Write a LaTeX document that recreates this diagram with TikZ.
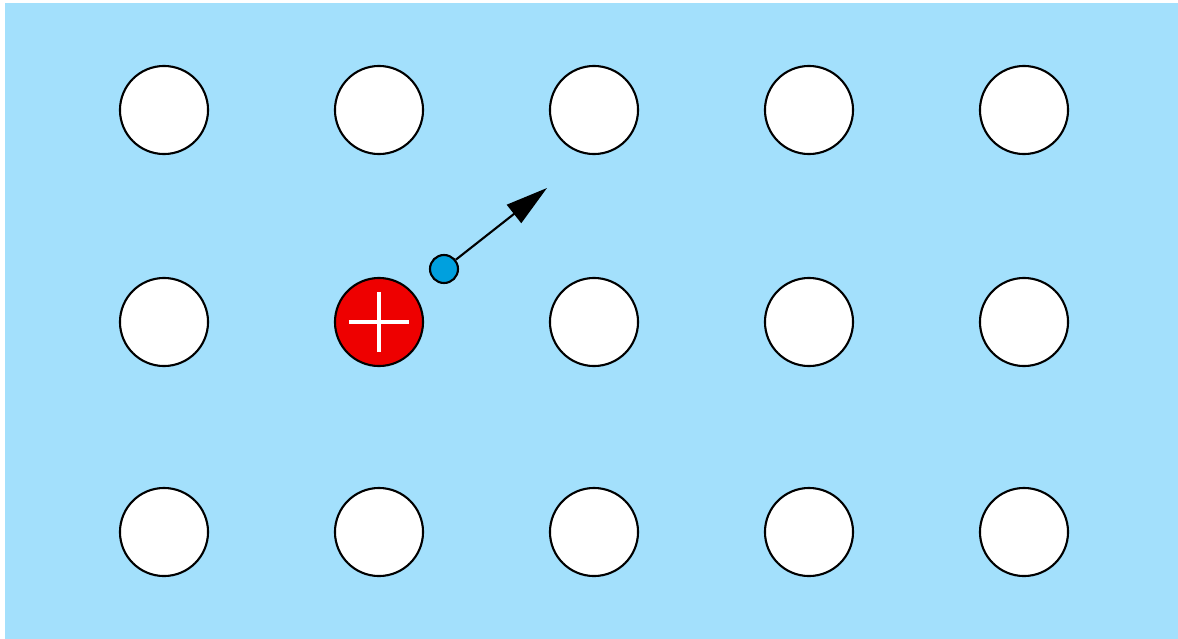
\documentclass[tikz,border=0pt]{standalone}
\usetikzlibrary{arrows.meta}
\definecolor{bgblue}{RGB}{163,224,252}
\definecolor{ionred}{RGB}{238,0,0}
\definecolor{eblue}{RGB}{0,160,222}
\begin{document}
\begin{tikzpicture}[x=0.01cm,y=-0.01cm,
  atom/.style={circle,draw=black,fill=white,line width=0.6pt,minimum size=0.88cm,inner sep=0pt},
  ion/.style={atom,fill=ionred},
  electron/.style={circle,draw=black,fill=eblue,line width=0.6pt,minimum size=0.28cm,inner sep=0pt},
  motion/.style={line width=0.6pt,-{Triangle[length=0.42cm,width=0.23cm]}}]
\useasboundingbox (0,0) rectangle (1178,639);
\fill[bgblue] (5,3) rectangle (1178,639);
\foreach \c [count=\i] in {164,379,594,809,1024}{
  \foreach \r [count=\j] in {110,322,532}{
    \ifnum\i=2 \ifnum\j=2 \else \node[atom] (a\i\j) at (\c,\r) {};\fi
    \else \node[atom] (a\i\j) at (\c,\r) {};\fi
  }
}
\node[ion] (ion) at (379,322) {};
\draw[white,line width=1.2pt] ([xshift=-0.30cm]ion.center) -- ([xshift=0.30cm]ion.center);
\draw[white,line width=1.2pt] ([yshift=-0.30cm]ion.center) -- ([yshift=0.30cm]ion.center);
\node[electron] (e) at (444,269) {};
\coordinate (tip) at (547,188);
\draw[motion] (e) -- (tip);
\end{tikzpicture}
\end{document}
